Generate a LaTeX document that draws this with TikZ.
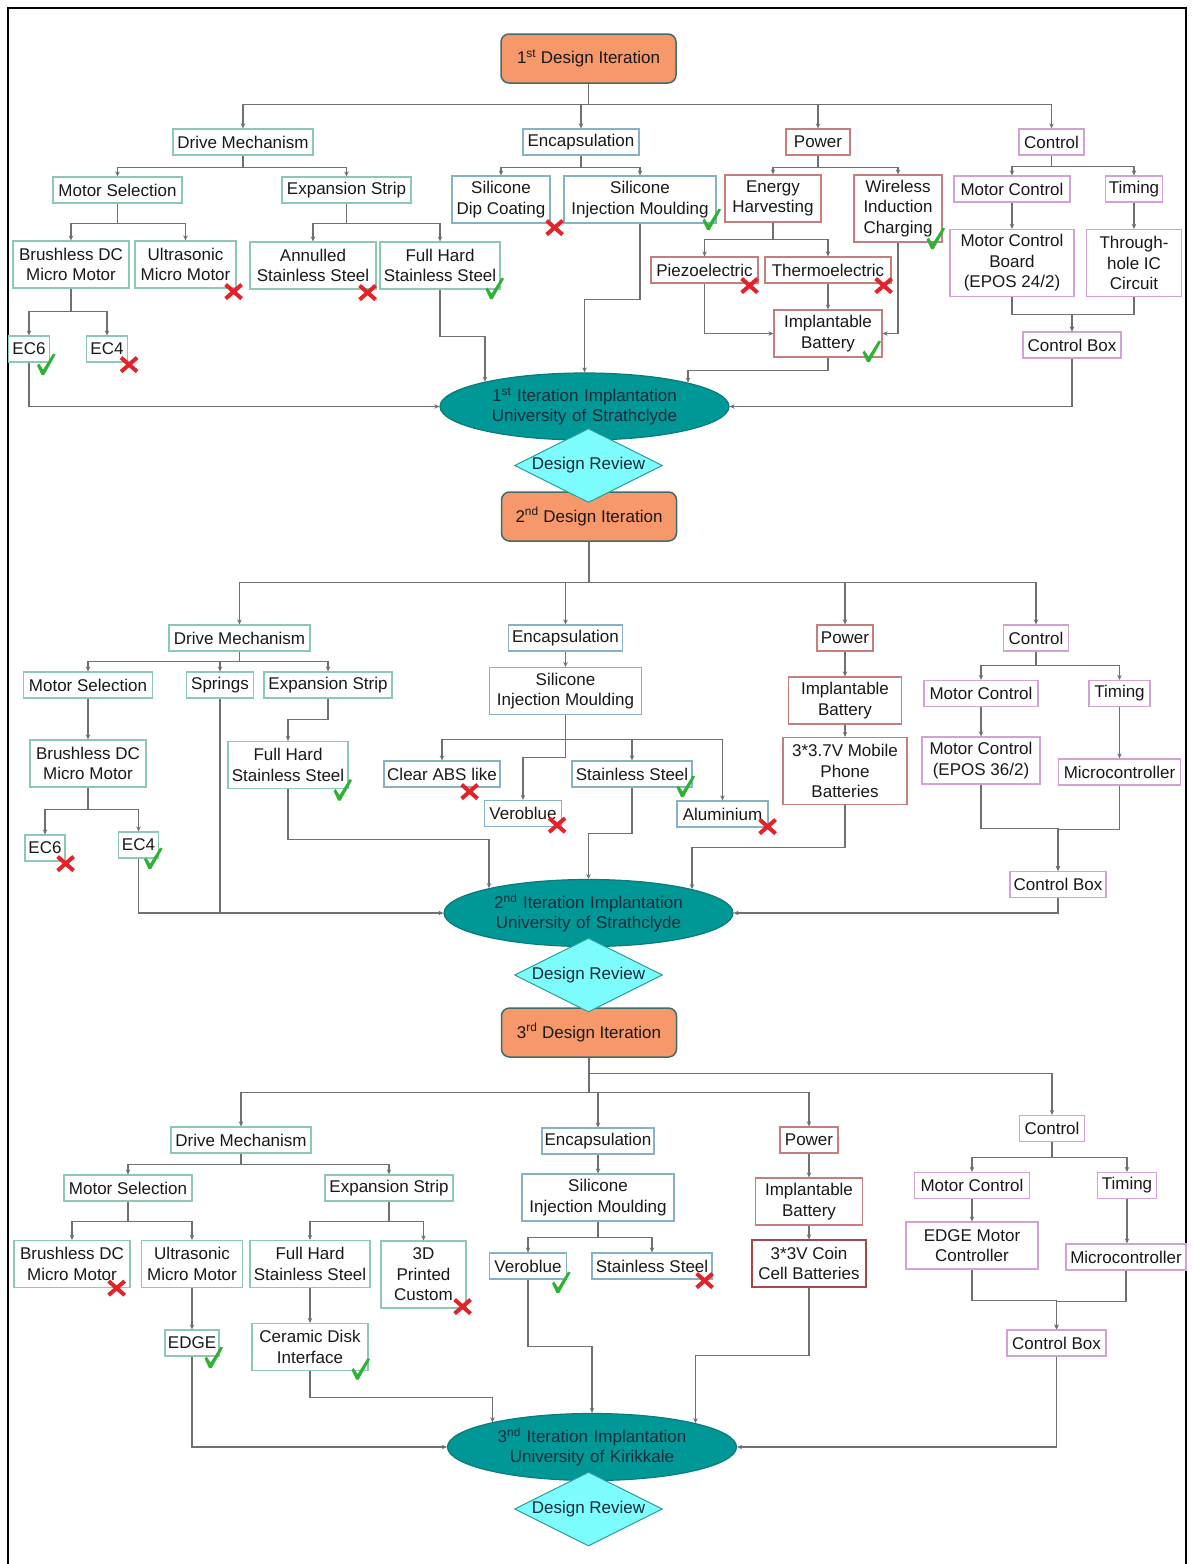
\documentclass[tikz,border=0pt]{standalone}
\usepackage{fontspec}
\setmainfont{Liberation Sans}
\usetikzlibrary{shapes.geometric, arrows.meta}
\definecolor{drvLine}{HTML}{8CC8B2}
\definecolor{encLine}{HTML}{86B3C3}
\definecolor{pwrLine}{HTML}{C47E7E}
\definecolor{coinLine}{HTML}{A84848}
\definecolor{ctlLine}{HTML}{D2A2D5}
\definecolor{stageLine}{HTML}{3F6E66}
\definecolor{stageFill}{HTML}{F7986A}
\definecolor{siteLine}{HTML}{0B7A7A}
\definecolor{siteFill}{HTML}{009797}
\definecolor{siteText}{HTML}{1B2B3B}
\definecolor{reviewLine}{HTML}{2C9C9C}
\definecolor{reviewFill}{HTML}{7CFCFC}
\definecolor{wireGrey}{HTML}{707070}
\definecolor{markRed}{HTML}{E3222A}
\definecolor{markGreen}{HTML}{2EB135}

\begin{document}
\begin{tikzpicture}[x=1pt, y=-1pt, font=\fontsize{17}{20.5}\selectfont,
    box/.style={draw, line width=1.2pt, fill=white, text=black!90, align=center,
                minimum height=26pt, inner xsep=2pt, inner ysep=3pt},
    two/.style={minimum height=47pt},
    three/.style={minimum height=67pt},
    drv/.style={box, draw=drvLine},
    enc/.style={box, draw=encLine},
    pwr/.style={box, draw=pwrLine},
    ctl/.style={box, draw=ctlLine},
    stage/.style={draw=stageLine, line width=1.5pt, fill=stageFill, rounded corners=8pt,
                  minimum width=175pt, minimum height=49pt, text=black!90},
    site/.style={ellipse, draw=siteLine, line width=1.2pt, fill=siteFill, text=siteText,
                 minimum width=289pt, minimum height=67pt, inner sep=0pt,
                 text width=198pt, align=center},
    review/.style={diamond, aspect=2, draw=reviewLine, line width=1pt, fill=reviewFill,
                   text=siteText, minimum width=148pt, minimum height=74pt, inner sep=0pt},
    conn/.style={draw=wireGrey, line width=1.1pt, -{Stealth[length=5pt, width=4.5pt]}},
    wire/.style={draw=wireGrey, line width=1.1pt},
    xmark/.pic={\draw[markRed, line width=4pt] (-8,-7) -- (8,7) (-8,7) -- (8,-7);},
    vmark/.pic={\fill[markGreen] (-9,1) -- (-7,-1) -- (-3,5) -- (7,-11) -- (9.5,-10)
                -- (-2,10.5) -- (-4.5,10.5) -- cycle;}]
  \useasboundingbox (0,0) rectangle (1193,1564);
  \draw[line width=2pt] (7.5,1600) -- (7.5,7.5) -- (1186,7.5) -- (1186,1600);

  % first iteration
  \node[stage] (it1) at (588.5,58.5) {1\textsuperscript{st} Design Iteration};
  \node[drv, minimum width=140pt] (dm1) at (243,142) {Drive Mechanism};
  \node[enc, minimum width=116pt] (en1) at (581,142) {Encapsulation};
  \node[pwr, minimum width=64pt] (pw1) at (818,142) {Power};
  \node[ctl, minimum width=65pt] (co1) at (1051.5,142) {Control};
  \node[drv, minimum width=129pt] (ms1) at (117.5,190) {Motor Selection};
  \node[drv, minimum width=129pt] (es1) at (346.5,190) {Expansion Strip};
  \node[drv, two, minimum width=116pt] (bl1) at (71,264.5) {Brushless DC\\Micro Motor};
  \node[drv, two, minimum width=101pt] (us1) at (185.5,264.5) {Ultrasonic\\Micro Motor};
  \node[drv, two, minimum width=126pt] (an1) at (313,265.5) {Annulled\\Stainless Steel};
  \node[drv, two, minimum width=120pt] (fh1) at (440,265.5) {Full Hard\\Stainless Steel};
  \node[drv, minimum width=41pt] (ec6a) at (29,349) {EC6};
  \node[drv, minimum width=41pt] (ec4a) at (107,349) {EC4};
  \node[enc, two, minimum width=98pt] (sd1) at (501,199.5) {Silicone\\Dip Coating};
  \node[enc, two, minimum width=152pt] (si1) at (640,199.5) {Silicone\\Injection Moulding};
  \node[pwr, two, minimum width=96pt] (eh1) at (773,198.5) {Energy\\Harvesting};
  \node[pwr, three, minimum width=88pt] (wc1) at (898,208.5) {Wireless\\Induction\\Charging};
  \node[pwr, minimum width=107pt] (pz1) at (704.5,270) {Piezoelectric};
  \node[pwr, minimum width=126pt] (te1) at (828,270) {Thermoelectric};
  \node[pwr, two, minimum width=108pt] (ib1) at (828,333.5) {Implantable\\Battery};
  \node[ctl, minimum width=116pt] (mc1) at (1012,189) {Motor Control};
  \node[ctl, minimum width=57pt] (ti1) at (1134,189) {Timing};
  \node[ctl, three, minimum width=124pt] (mb1) at (1012,263) {Motor Control\\Board\\(EPOS 24/2)};
  \node[ctl, three, minimum width=95pt] (th1) at (1134,263) {Through-\\hole IC\\Circuit};
  \node[ctl, minimum width=98pt] (cb1) at (1072,345) {Control Box};
  \node[site] (site1) at (584.5,406.5) {1\textsuperscript{st} Iteration Implantation\\University of Strathclyde};

  % second iteration
  \node[stage] (it2) at (589,516.5) {2\textsuperscript{nd} Design Iteration};
  \node[review] (rev1) at (588.5,465.5) {Design Review};
  \node[drv, minimum width=141pt] (dm2) at (239.5,638) {Drive Mechanism};
  \node[enc, minimum width=114pt] (en2) at (565.5,638) {Encapsulation};
  \node[pwr, minimum width=56pt] (pw2) at (845,638) {Power};
  \node[ctl, minimum width=65pt] (co2) at (1036,638) {Control};
  \node[drv, minimum width=129pt] (ms2) at (88,685) {Motor Selection};
  \node[drv, minimum width=67pt] (sp2) at (220,685) {Springs};
  \node[drv, minimum width=128pt] (es2) at (328,685) {Expansion Strip};
  \node[drv, two, minimum width=116pt] (bl2) at (88,763.5) {Brushless DC\\Micro Motor};
  \node[drv, two, minimum width=120pt] (fh2) at (288,765) {Full Hard\\Stainless Steel};
  \node[drv, minimum width=40pt] (ec6b) at (45,848) {EC6};
  \node[drv, minimum width=40pt] (ec4b) at (138.5,845) {EC4};
  \node[enc, two, minimum width=152pt] (si2) at (565.5,691) {Silicone\\Injection Moulding};
  \node[enc, minimum width=116pt] (ca2) at (442,774) {Clear ABS like};
  \node[enc, minimum width=120pt] (ss2) at (632,774) {Stainless Steel};
  \node[enc, minimum width=77pt] (vb2) at (523,813.5) {Veroblue};
  \node[enc, minimum width=91pt] (al2) at (722.5,814) {Aluminium};
  \node[pwr, two, minimum width=113pt] (ib2) at (845,700.5) {Implantable\\Battery};
  \node[pwr, three, minimum width=124pt] (mp2) at (845,771) {3*3.7V Mobile\\Phone\\Batteries};
  \node[ctl, minimum width=114pt] (mc2) at (981,693.5) {Motor Control};
  \node[ctl, minimum width=61pt] (ti2) at (1119.5,693.5) {Timing};
  \node[ctl, two, minimum width=118pt] (me2) at (981,760.5) {Motor Control\\(EPOS 36/2)};
  \node[ctl, minimum width=122pt] (mu2) at (1119.5,772) {Microcontroller};
  \node[ctl, minimum width=96pt] (cb2) at (1058,884.5) {Control Box};
  \node[site] (site2) at (588.5,913) {2\textsuperscript{nd} Iteration Implantation\\University of Strathclyde};

  % third iteration
  \node[stage] (it3) at (589,1032.5) {3\textsuperscript{rd} Design Iteration};
  \node[review] (rev2) at (588.5,975) {Design Review};
  \node[drv, minimum width=140pt] (dm3) at (241,1140) {Drive Mechanism};
  \node[enc, minimum width=112pt] (en3) at (598,1141) {Encapsulation};
  \node[pwr, minimum width=58pt] (pw3) at (809,1140) {Power};
  \node[ctl, minimum width=65pt] (co3) at (1052,1128.5) {Control};
  \node[drv, minimum width=128pt] (ms3) at (128,1188) {Motor Selection};
  \node[drv, minimum width=128pt] (es3) at (389,1188) {Expansion Strip};
  \node[drv, two, minimum width=116pt] (bl3) at (72,1264) {Brushless DC\\Micro Motor};
  \node[drv, two, minimum width=101pt] (us3) at (192,1264) {Ultrasonic\\Micro Motor};
  \node[drv, two, minimum width=120pt] (fh3) at (310,1264) {Full Hard\\Stainless Steel};
  \node[drv, three, minimum width=85pt] (pc3) at (423.5,1274.5) {3D\\Printed\\Custom};
  \node[drv, minimum width=54pt] (ed3) at (192,1343) {EDGE};
  \node[drv, two, minimum width=116pt] (cd3) at (310,1347) {Ceramic Disk\\Interface};
  \node[enc, two, minimum width=152pt] (si3) at (598,1197.5) {Silicone\\Injection Moulding};
  \node[enc, minimum width=77pt] (vb3) at (528,1266) {Veroblue};
  \node[enc, minimum width=120pt] (ss3) at (652,1266) {Stainless Steel};
  \node[pwr, two, minimum width=107pt] (ib3) at (809,1201.5) {Implantable\\Battery};
  \node[pwr, two, draw=coinLine, minimum width=114pt] (cc3) at (809,1263.5) {3*3V Coin\\Cell Batteries};
  \node[ctl, minimum width=115pt] (mc3) at (972,1185.5) {Motor Control};
  \node[ctl, minimum width=59pt] (ti3) at (1127,1185.5) {Timing};
  \node[ctl, two, minimum width=132pt] (em3) at (972,1245.5) {EDGE Motor\\Controller};
  \node[ctl, minimum width=120pt] (mu3) at (1126,1257) {Microcontroller};
  \node[ctl, minimum width=99pt] (cb3) at (1056.5,1343) {Control Box};
  \node[site] (site3) at (592,1447) {3\textsuperscript{nd} Iteration Implantation\\University of Kirikkale};
  \node[review] (rev3) at (588.5,1509) {Design Review};

  % branching connectors
  \foreach \a/\b/\d in {it1/dm1/21, it1/en1/21, it1/pw1/21, it1/co1/21,
                        dm1/ms1/12, dm1/es1/12, ms1/bl1/20, ms1/us1/20,
                        es1/an1/20, es1/fh1/20, bl1/ec6a/23, bl1/ec4a/23,
                        en1/sd1/12, en1/si1/12, pw1/eh1/12, pw1/wc1/12,
                        eh1/pz1/17, eh1/te1/17, co1/mc1/11, co1/ti1/11,
                        mb1/cb1/17.5, th1/cb1/17.5,
                        it2/dm2/41, it2/en2/41, it2/pw2/41, it2/co2/41,
                        dm2/ms2/10, dm2/sp2/10, dm2/es2/10, bl2/ec6b/22, bl2/ec4b/22,
                        es2/fh2/21, si2/ca2/24.5, si2/ss2/24.5, si2/al2/24.5, si2/vb2/42.5,
                        co2/mc2/14, co2/ti2/14, me2/cb2/44, mu2/cb2/44,
                        it3/dm3/35, it3/en3/35, it3/pw3/35, it3/co3/16,
                        dm3/ms3/11, dm3/es3/11, ms3/bl3/20, ms3/us3/20,
                        es3/fh3/20, es3/pc3/20, si3/vb3/16, si3/ss3/16,
                        co3/mc3/15.5, co3/ti3/15.5, em3/cb3/31, mu3/cb3/31}
    \draw[conn] (\a.south) -- ++(0,\d) -| (\b.north);

  \foreach \a/\b in {te1/ib1, mc1/mb1, ti1/th1, ms2/bl2, en2/si2, pw2/ib2, ib2/mp2,
                     mc2/me2, ti2/mu2, us3/ed3, fh3/cd3, en3/si3, pw3/ib3, ib3/cc3,
                     mc3/em3}
    \draw[conn] (\a.south) -- (\b.north);
  \draw[conn] (ti3.south) -- (ti3.south |- mu3.north);

  \foreach \a/\b in {ec6a/site1.west, pz1/ib1.west, wc1/ib1.east, cb1/site1.east,
                     ec4b/site2.west, cb2/site2.east, ed3/site3.west, cb3/site3.east}
    \draw[conn] (\a.south) |- (\b);

  % feeds into the implantation ellipses
  \foreach \a/\b/\d in {fh1/site1.166.5/47, si1/site1.north/75.5, ib1/site1.13/13,
                        fh2/site2.166.7/50, ss2/site2.north/46, mp2/site2.13/42,
                        cd3/site3.166.7/26, vb3/site3.north/67, cc3/site3.13.5/68}
    \draw[conn] (\a.south) -- ++(0,\d) -| (\b);

  \draw[wire] (sp2.south) -- (sp2.south |- site2.west);

  % outcome marks
  \foreach \n/\dx/\dy in {us1/-3/3, an1/-9/3, ec4a/1/2, sd1/4/4, pz1/-9/2, te1/-8/2,
                          ec6b/0/2, ca2/-31/4, vb2/-5/-2, al2/-1/-1,
                          bl3/-14/0, pc3/-4/-2, ss3/-8/1}
    \pic at ([shift={(\dx,\dy)}]\n.south east) {xmark};
  \foreach \n/\dx/\dy in {fh1/-6/-1, ec6a/-4/2, si1/-5/-4, wc1/-7/-4, ib1/-11/-6,
                          ec4b/-6/0, fh2/-6/1, ss2/-7/-1,
                          ed3/-6/1, cd3/-8/-2, vb3/-6/3}
    \pic at ([shift={(\dx,\dy)}]\n.south east) {vmark};
\end{tikzpicture}
\end{document}
